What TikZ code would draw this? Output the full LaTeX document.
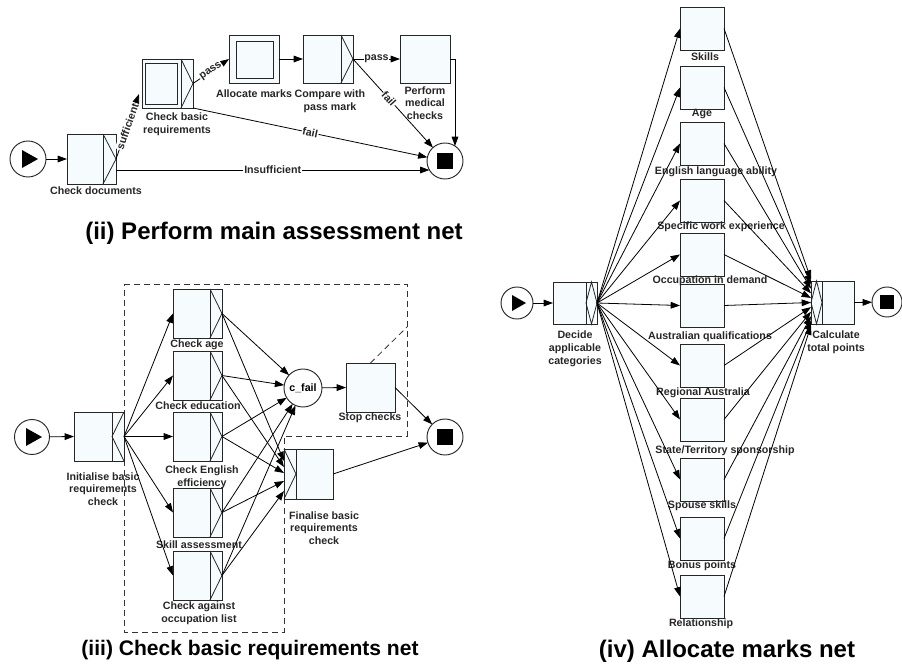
\documentclass[tikz,border=0pt]{standalone}
\usepackage{fontspec}
\setmainfont{Liberation Sans}
\usetikzlibrary{arrows.meta,calc}
\definecolor{taskfill}{RGB}{246,252,253}
\newcommand\tb[6]{\node[#6, minimum width={(#4-#2)*0.75pt}, minimum height={(#5-#3)*0.75pt}] (#1) at ({(#2+#4)/2},{(#3+#5)/2}) {};}
\newcommand\xsplit[1]{\draw[decor] (#1.north west) -- (#1.east) -- (#1.south west);}
\newcommand\andsplit[1]{\draw[decor] (#1.north east) -- (#1.west) -- (#1.south east);}
\newcommand\orsplit[1]{\draw[decor] (#1.north) -- (#1.east) -- (#1.south) -- (#1.west) -- cycle;}
\begin{document}
\begin{tikzpicture}[x=0.75pt,y=-0.75pt,
  task/.style={draw=black!85, fill=taskfill, line width=0.7pt, inner sep=0, outer sep=0},
  inner/.style={draw=black!85, line width=0.7pt, inner sep=0, outer sep=0},
  circ/.style={circle, draw=black!85, fill=white, line width=0.7pt, inner sep=0, outer sep=0},
  decor/.style={line width=0.6pt, black!85},
  arr/.style={line width=0.6pt, -{Triangle[length=7pt,width=5pt]}},
  lbl/.style={font=\fontsize{8}{9.6}\selectfont\bfseries, align=center, inner sep=0, text=black!85},
  elbl/.style={lbl, fill=white, inner sep=0.6pt, sloped},
  title/.style={font=\fontsize{18}{21}\selectfont\bfseries, inner sep=0},
  dreg/.style={dash pattern=on 4.5pt off 3pt, line width=0.6pt, draw=black!80}]
\useasboundingbox (0,0) rectangle (902,667);

% ---------------- (ii) ----------------
\node[circ, minimum size={36*0.75pt}] (s2) at (28,159) {};
\fill ($(s2)+(-6,-9)$) -- ($(s2)+(-6,9)$) -- ($(s2)+(10,0)$) -- cycle;
\tb{cd}{67}{134}{103}{184}{task}
\tb{cdd}{103}{134}{116}{184}{task}
\xsplit{cdd}
\node[lbl] (cdl) at (96,191) {Check documents};

\tb{cbr}{142}{59}{181}{108}{task}
\tb{cbrin}{145}{63}{177}{104}{inner}
\tb{cbrd}{181}{59}{193}{108}{task}
\xsplit{cbrd}
\node[lbl] (cbrl) at (177,124) {Check basic\\requirements};

\tb{am}{229}{35}{279}{83}{task}
\tb{amin}{236}{41}{273}{78}{inner}
\node[lbl] (aml) at (254,94) {Allocate marks};

\tb{cpm}{303}{35}{341}{83}{task}
\tb{cpmd}{341}{35}{353}{83}{task}
\xsplit{cpmd}
\node[lbl] (cpml) at (330,101) {Compare with\\pass mark};

\tb{pmc}{400}{35}{450}{83}{task}
\node[lbl] (pmcl) at (425,103) {Perform\\medical\\checks};

\node[circ, minimum size={36*0.75pt}] (e2) at (445,161) {};
\fill ($(e2)+(-8,-8)$) rectangle ($(e2)+(8,8)$);

\draw[arr] (s2) -- (cd.west);
\draw[arr] (cdd.east) -- node[elbl,pos=0.5]{sufficient} ($(cbr.south west)+(-3,-14)$);
\draw[arr] ($(cdd.east)+(0,11)$) -- node[elbl]{Insufficient} ($(e2)+(-15.6,9)$);
\draw[arr] (cbrd.east) -- node[elbl]{pass} (am.west);
\draw[arr] (cbrd.south east) -- node[elbl]{fail} (e2);
\draw[arr] (am.east) -- (cpm.west);
\draw[arr] (cpmd.east) -- node[elbl]{pass} (pmc.west);
\draw[arr] (cpmd.east) -- node[elbl,pos=0.45]{fail} (e2);
\draw[arr] (pmc.east) -| ($(e2)+(10,-15)$);

\node[title] (t2) at (274,233) {(ii) Perform main assessment net};

% ---------------- (iii) ----------------
\draw[dreg] (124,284) -- (407,284) -- (407,436) -- (284,436) -- (284,632) -- (124,632) -- cycle;

\node[circ, minimum size={35*0.75pt}] (s3) at (32,437) {};
\fill ($(s3)+(-6,-9)$) -- ($(s3)+(-6,9)$) -- ($(s3)+(10,0)$) -- cycle;
\tb{ini}{74}{412}{112}{461}{task}
\tb{inid}{112}{412}{124}{461}{task}
\andsplit{inid}
\node[lbl] (inil) at (103,489) {Initialise basic\\requirements\\check};

\tb{ca}{173}{289}{210}{338}{task}
\tb{cad}{210}{289}{222}{338}{task}
\xsplit{cad}
\node[lbl] (cal) at (197,345) {Check age};

\tb{ce}{173}{351}{210}{400}{task}
\tb{ced}{210}{351}{222}{400}{task}
\xsplit{ced}
\node[lbl] (cel) at (198,406) {Check education};

\tb{cen}{173}{412}{210}{461}{task}
\tb{cend}{210}{412}{222}{461}{task}
\xsplit{cend}
\node[lbl] (cenl) at (202,477) {Check English\\efficiency};

\tb{sa}{173}{488}{210}{537}{task}
\tb{sad}{210}{488}{222}{537}{task}
\xsplit{sad}
\node[lbl] (sal) at (199,545) {Skill assessment};

\tb{co}{173}{551}{210}{600}{task}
\tb{cod}{210}{551}{222}{600}{task}
\xsplit{cod}
\node[lbl] (col) at (199,613) {Check against\\occupation list};

\node[circ, minimum size={38*0.75pt}, font=\fontsize{8}{9.6}\selectfont\bfseries] (cf) at (303,388) {c\_fail};

\tb{sc}{346}{363}{395}{412}{task}
\node[lbl] (scl) at (370,418) {Stop checks};

\tb{find}{284}{449}{296}{499}{task}
\tb{fin}{296}{449}{333}{499}{task}
\xsplit{find}
\node[lbl] (finl) at (324,528) {Finalise basic\\requirements\\check};

\node[circ, minimum size={36*0.75pt}] (e3) at (445,437) {};
\fill ($(e3)+(-8,-8)$) rectangle ($(e3)+(8,8)$);

\draw[arr] (s3) -- (ini.west);
\foreach \t in {ca,ce,cen,sa,co} \draw[arr] (inid.east) -- (\t.west);
\foreach \t/\o in {cad/-13, ced/-7, cend/-1, sad/7, cod/17} {
  \draw[arr] (\t.east) -- (cf);
  \draw[arr] (\t.east) -- ($(find.west)+(0,\o)$);
}
\draw[arr] (cf) -- (sc.west);
\draw[arr] (sc.east) -- (e3);
\draw[arr] (fin.east) -- (e3);
\draw[dreg] (sc.north) -- (407,327);

\node[title, font=\fontsize{15.8}{19}\selectfont\bfseries] (t3) at (250,650) {(iii) Check basic requirements net};

% ---------------- (iv) ----------------
\node[circ, minimum size={32*0.75pt}] (s4) at (517,303) {};
\fill ($(s4)+(-5,-8)$) -- ($(s4)+(-5,8)$) -- ($(s4)+(9,0)$) -- cycle;
\tb{dac}{553}{282}{586}{324}{task}
\tb{dacd}{586}{282}{597}{324}{task}
\orsplit{dacd}
\node[lbl] (dacl) at (575,349) {Decide\\applicable\\categories};

\tb{t1}{680}{7}{724}{50}{task}
\tb{t2}{680}{66}{724}{109}{task}
\tb{t3}{680}{122}{724}{165}{task}
\tb{t4}{680}{179}{724}{222}{task}
\tb{t5}{680}{233}{724}{276}{task}
\tb{t6}{680}{284}{724}{327}{task}
\tb{t7}{680}{344}{724}{387}{task}
\tb{t8}{680}{398}{724}{441}{task}
\tb{t9}{680}{458}{724}{501}{task}
\tb{t10}{680}{517}{724}{560}{task}
\tb{t11}{680}{575}{724}{618}{task}
\node[lbl] (l1) at (705,57) {Skills};
\node[lbl] (l2) at (702,114) {Age};
\node[lbl] (l3) at (716,172) {English language ability};
\node[lbl] (l4) at (721,227) {Specific work experience};
\node[lbl] (l5) at (710,281) {Occupation in demand};
\node[lbl] (l6) at (710,337) {Australian qualifications};
\node[lbl] (l7) at (703,393) {Regional Australia};
\node[lbl] (l8) at (725,451) {State/Territory sponsorship};
\node[lbl] (l9) at (702,506) {Spouse skills};
\node[lbl] (l10) at (702,566) {Bonus points};
\node[lbl] (l11) at (701,624) {Relationship};

\tb{ctpd}{811}{281}{822}{324}{task}
\tb{ctp}{822}{281}{854}{324}{task}
\orsplit{ctpd}
\node[lbl] (ctpl) at (836,342) {Calculate\\total points};

\node[circ, minimum size={30*0.75pt}] (e4) at (887,302) {};
\fill ($(e4)+(-7,-7)$) rectangle ($(e4)+(7,7)$);

\draw[arr] (s4) -- (dac.west);
\foreach \n in {1,...,11} {
  \draw[arr] (dacd.east) -- (t\n.west);
  \draw[arr] (t\n.east) -- ($(ctpd.west)+(0,{(\n-6)*4.6})$);
}
\draw[arr] (ctp.east) -- (e4);

\node[title] (t4) at (727,651) {(iv) Allocate marks net};
\end{tikzpicture}
\end{document}
